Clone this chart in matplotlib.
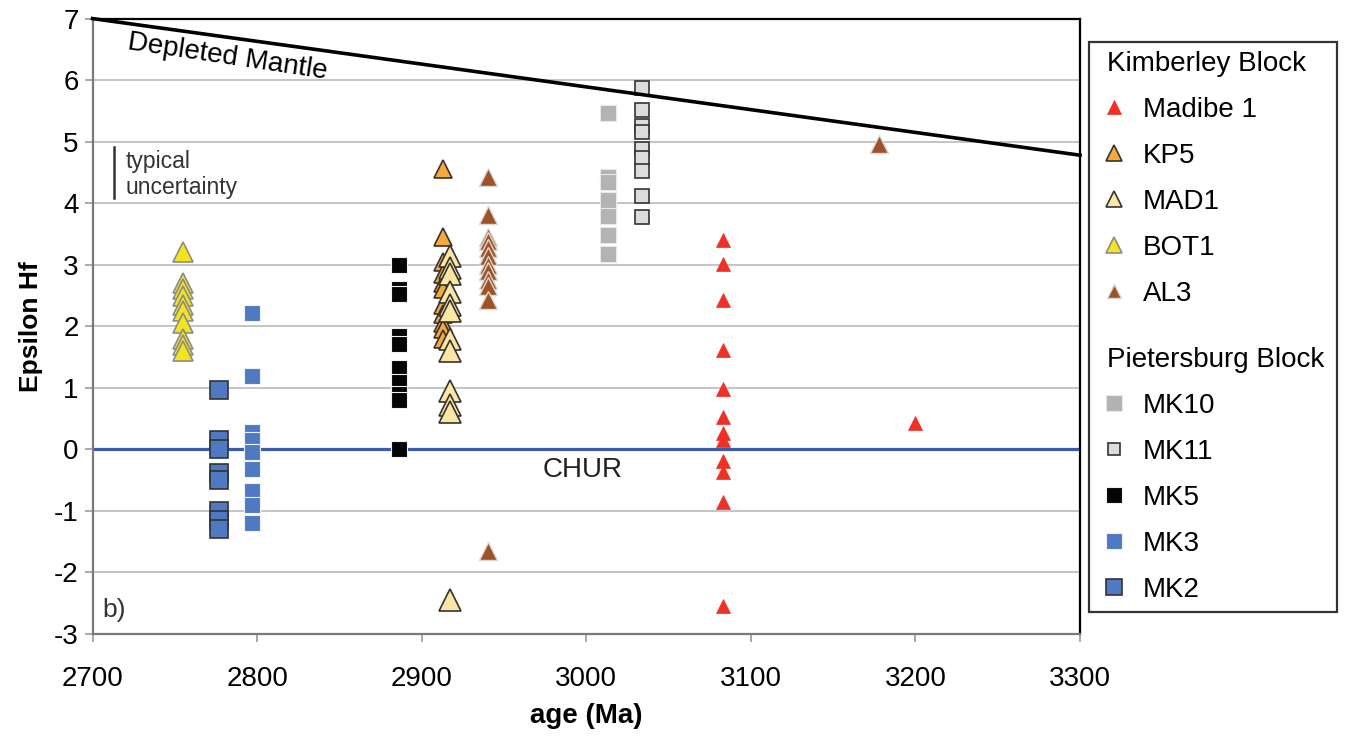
import matplotlib
matplotlib.use("Agg")
import matplotlib.pyplot as plt
from matplotlib.lines import Line2D
from matplotlib.transforms import ScaledTranslation

plt.rcParams['font.family'] = ['Liberation Sans', 'DejaVu Sans']
plt.rcParams['axes.unicode_minus'] = False

# ---------------- data ----------------
madibe_age = [3083] * 12 + [3200]
madibe_eps = [3.41, 3.02, 2.42, 1.61, 0.98, 0.52, 0.27, 0.15, -0.19, -0.36, -0.86, -2.54, 0.43]

kp5_age = [2913] * 11
kp5_eps = [4.55, 3.45, 3.05, 2.85, 2.7, 2.6, 2.35, 2.2, 2.05, 1.95, 1.8]

mad1_age = [2917] * 12
mad1_eps = [3.15, 2.95, 2.85, 2.55, 2.35, 2.25, 1.8, 1.6, 0.95, 0.72, 0.6, -2.45]

bot1_age = [2755] * 10
bot1_eps = [3.2, 2.7, 2.6, 2.5, 2.35, 2.25, 2.05, 1.8, 1.7, 1.6]

al3_age = [2940] * 12 + [3178]
al3_eps = [4.43, 3.81, 3.45, 3.38, 3.28, 3.15, 3.0, 2.9, 2.75, 2.65, 2.42, -1.65, 4.97]

mk10_age = [3013] * 7
mk10_eps = [5.46, 4.43, 4.35, 4.06, 3.8, 3.49, 3.17]

mk11_age = [3034] * 9
mk11_eps = [5.88, 5.52, 5.25, 5.15, 4.88, 4.73, 4.52, 4.12, 3.77]

mk5_age = [2886] * 10
mk5_eps = [3.0, 2.6, 2.52, 1.85, 1.72, 1.32, 1.1, 0.9, 0.8, 0.0]

mk3_age = [2797] * 9
mk3_eps = [2.22, 1.2, 0.28, 0.15, -0.05, -0.32, -0.68, -0.9, -1.2]

mk2_age = [2777] * 8
mk2_eps = [0.97, 0.15, 0.0, -0.38, -0.5, -1.0, -1.15, -1.3]

dm_age = [2700, 3300]
dm_eps = [7.0, 4.78]

chur_age = [2700, 3300]
chur_eps = [0.0, 0.0]

xticks = [2700, 2800, 2900, 3000, 3100, 3200, 3300]
yticks = [-3, -2, -1, 0, 1, 2, 3, 4, 5, 6, 7]

# ---------------- styles ----------------
styles = {
    'Madibe 1': dict(marker='^', ms=10, mfc='#EE3124', mec='#EE3124', mew=0.5),
    'KP5': dict(marker='^', ms=12.5, mfc='#F9A83B', mec='#333333', mew=1.2),
    'MAD1': dict(marker='^', ms=15.5, mfc='#FCE6A4', mec='#333333', mew=1.2),
    'BOT1': dict(marker='^', ms=15, mfc='#F4E41C', mec='#8C8C8C', mew=1.2),
    'AL3': dict(marker='^', ms=13, mfc='#9E5226', mec='#D8D8D8', mew=1.0),
    'MK10': dict(marker='s', ms=11.5, mfc='#B3B3B3', mec='#E8E8E8', mew=0.8),
    'MK11': dict(marker='s', ms=9.5, mfc='#DCDCDC', mec='#333333', mew=1.2),
    'MK5': dict(marker='s', ms=11.5, mfc='#050505', mec='#F0F0F0', mew=0.8),
    'MK3': dict(marker='s', ms=11, mfc='#5079C3', mec='#EEF2FA', mew=0.8),
    'MK2': dict(marker='s', ms=13.5, mfc='#5079C3', mec='#333333', mew=1.2),
}
legend_ms = {'Madibe 1': 10, 'KP5': 12, 'MAD1': 12, 'BOT1': 12, 'AL3': 10,
             'MK10': 11, 'MK11': 9, 'MK5': 11, 'MK3': 11, 'MK2': 12}

fig = plt.figure(figsize=(13.51, 7.43), dpi=100)
ax = fig.add_axes([0.0685, 0.1467, 0.7309, 0.8283])

ax.set_xlim(2700, 3300)
ax.set_ylim(-3, 7)
ax.set_xticks(xticks)
ax.set_yticks(yticks)
ax.yaxis.grid(True, color='#B4B4B4', linewidth=1.1, zorder=0)
ax.set_axisbelow(True)

for s in ['left', 'bottom']:
    ax.spines[s].set_color('#7A7A7A')
    ax.spines[s].set_linewidth(1.6)
for s in ['top', 'right']:
    ax.spines[s].set_color('black')
    ax.spines[s].set_linewidth(1.6)

ax.tick_params(axis='both', direction='out', length=6, width=1.2, color='#9A9A9A',
               labelsize=20)
ax.tick_params(axis='x', pad=17)
ax.tick_params(axis='y', pad=4)
ax.set_xlabel('age (Ma)', fontsize=20, fontweight='bold', labelpad=8)
ax.set_ylabel('Epsilon Hf', fontsize=19, fontweight='bold', labelpad=8)

# reference lines
ax.plot(chur_age, chur_eps, color='#3A5BAA', lw=2.3, zorder=2)
ax.plot(dm_age, dm_eps, color='black', lw=2.6, zorder=5, clip_on=False)

series = [
    ('BOT1', bot1_age, bot1_eps),
    ('MK2', mk2_age, mk2_eps),
    ('MK3', mk3_age, mk3_eps),
    ('MK5', mk5_age, mk5_eps),
    ('KP5', kp5_age, kp5_eps),
    ('MAD1', mad1_age, mad1_eps),
    ('AL3', al3_age, al3_eps),
    ('MK10', mk10_age, mk10_eps),
    ('MK11', mk11_age, mk11_eps),
    ('Madibe 1', madibe_age, madibe_eps),
]
for name, xs, ys in series:
    ax.plot(xs, ys, linestyle='none', zorder=3, **styles[name])

# annotations
ax.text(2782, 6.38, 'Depleted Mantle', rotation=-8.5, rotation_mode='anchor',
        ha='center', va='center', fontsize=20)
ax.text(2998, -0.34, 'CHUR', ha='center', va='center', fontsize=20, color='#222222')
ax.text(2706, -2.61, 'b)', ha='left', va='center', fontsize=19, color='#333333')
ax.plot([2712.8, 2712.8], [4.09, 4.92], color='#333333', lw=1.8)
ax.text(2720, 4.47, 'typical\nuncertainty', ha='left', va='center', fontsize=16.5,
        color='#333333', linespacing=1.15)

# legend
blank = Line2D([], [], color='none')
handles = [blank]
labels = ['Kimberley Block']
for name in ['Madibe 1', 'KP5', 'MAD1', 'BOT1', 'AL3']:
    st = dict(styles[name])
    st['ms'] = legend_ms[name]
    handles.append(Line2D([], [], linestyle='none', **st))
    labels.append(name)
handles.append(blank)
labels.append('\nPietersburg Block')
for name in ['MK10', 'MK11', 'MK5', 'MK3', 'MK2']:
    st = dict(styles[name])
    st['ms'] = legend_ms[name]
    handles.append(Line2D([], [], linestyle='none', **st))
    labels.append(name)

leg = fig.legend(handles, labels, loc='upper left',
                 bbox_to_anchor=(1089 / 1351, 0.183, 248 / 1351, 0.9435 - 0.183),
                 bbox_transform=fig.transFigure, mode='expand', borderaxespad=0,
                 frameon=True, fancybox=False, edgecolor='black', fontsize=20,
                 handlelength=1.16, handletextpad=0.47, borderpad=0.32, labelspacing=0.72)
leg.get_frame().set_linewidth(1.6)
for t in leg.get_texts():
    if 'Block' in t.get_text():
        t.set_transform(t.get_transform() + ScaledTranslation(-0.36, 0, fig.dpi_scale_trans))
    if t.get_text().startswith('\n'):
        t.set_linespacing(0.7)

fig.savefig('out.png', dpi=100)
